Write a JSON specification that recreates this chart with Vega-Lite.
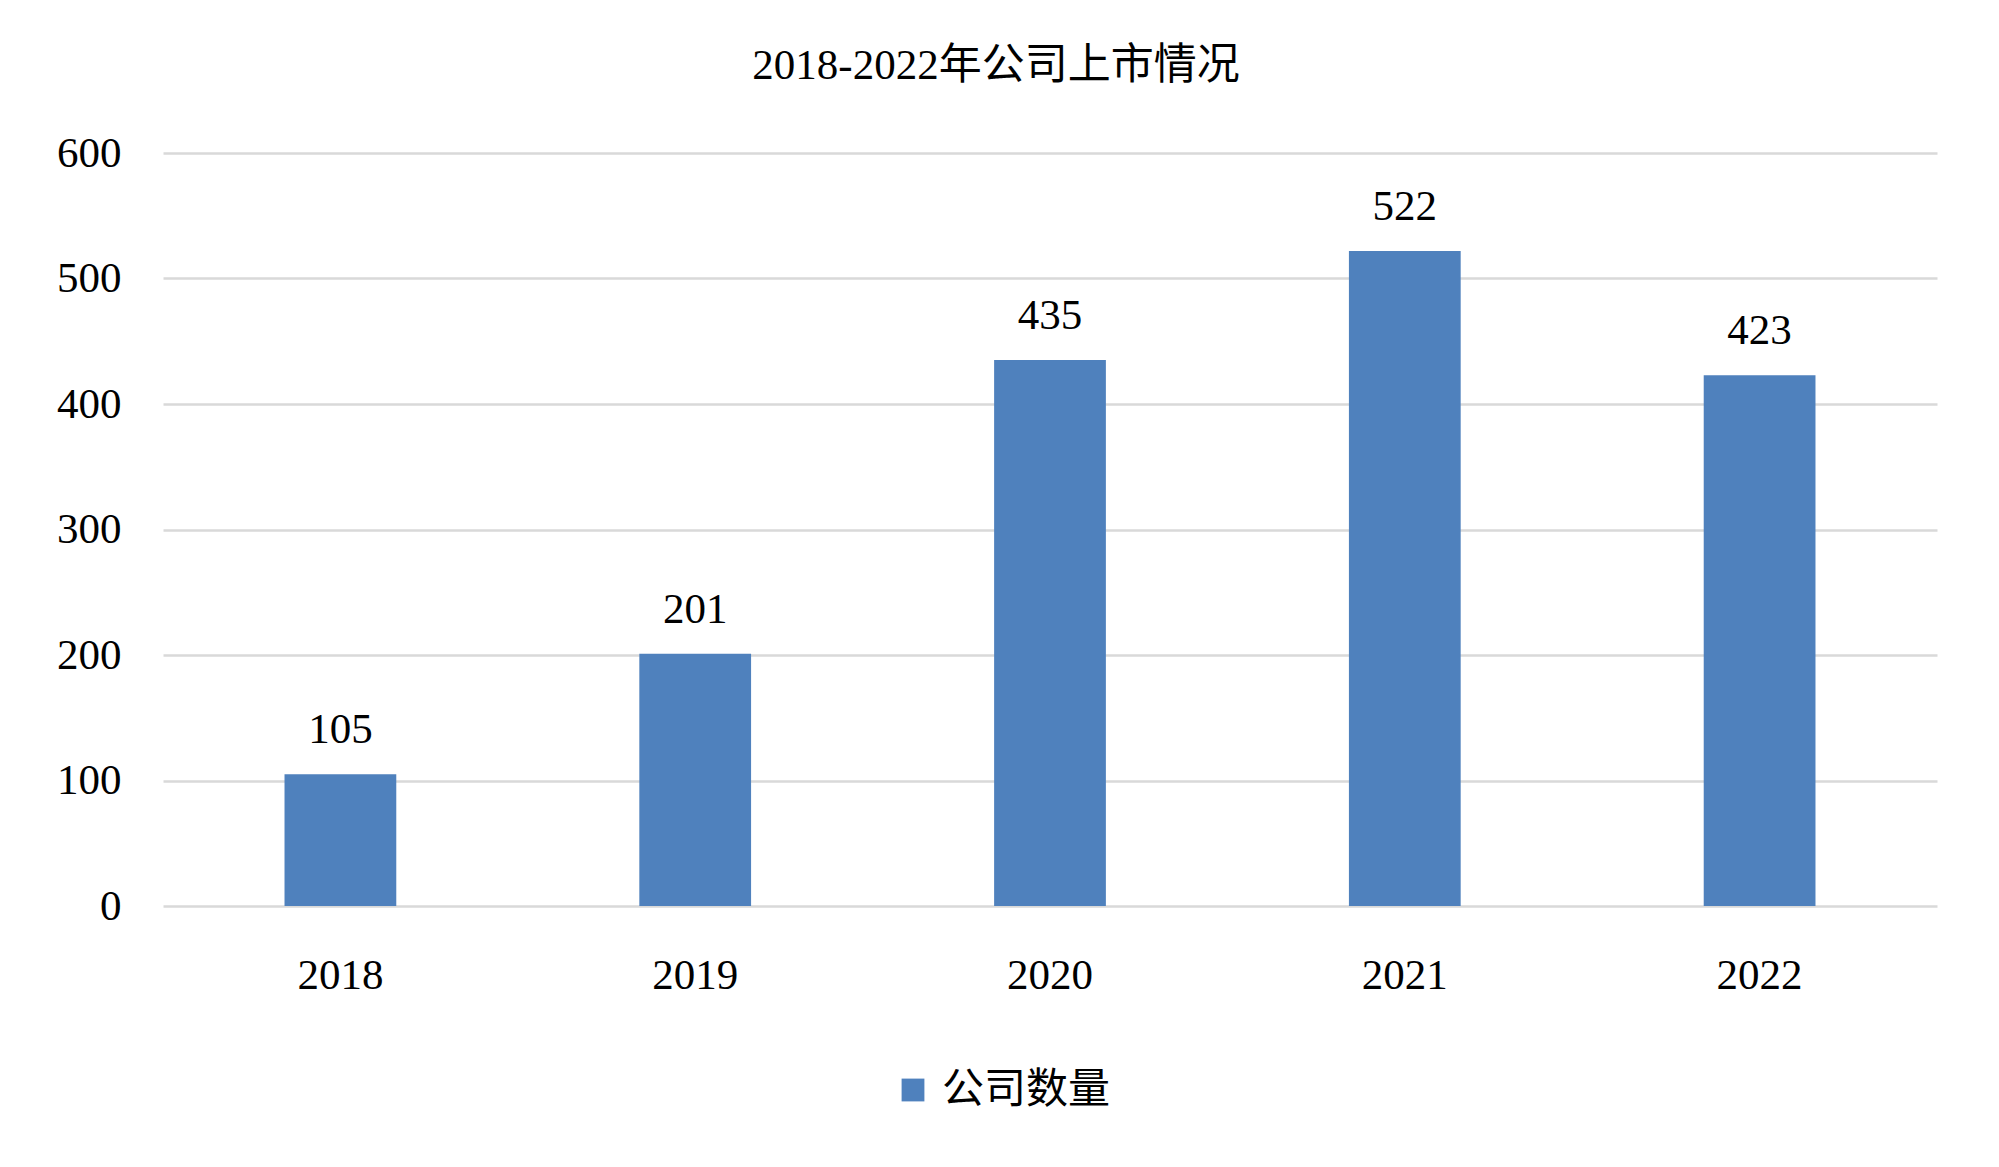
{
  "$schema": "https://vega.github.io/schema/vega-lite/v6.json",
  "autosize": "none",
  "width": 1774,
  "height": 753,
  "padding": {"left": 163, "top": 153, "right": 62, "bottom": 261},
  "background": "white",
  "config": {"view": {"stroke": null}},
  "title": {
    "text": "2018-2022年公司上市情况",
    "fontSize": 43,
    "font": "Liberation Serif, Noto Sans CJK SC",
    "fontWeight": "normal",
    "color": "#000000",
    "anchor": "middle",
    "frame": "group",
    "dx": -54,
    "offset": 44
  },
  "data": {
    "values": [
      {"year": "2018", "count": 105, "series": "公司数量"},
      {"year": "2019", "count": 201, "series": "公司数量"},
      {"year": "2020", "count": 435, "series": "公司数量"},
      {"year": "2021", "count": 522, "series": "公司数量"},
      {"year": "2022", "count": 423, "series": "公司数量"}
    ]
  },
  "encoding": {
    "x": {
      "field": "year",
      "type": "nominal",
      "title": null,
      "sort": null,
      "scale": {"paddingInner": 0.685, "paddingOuter": 0.3425},
      "axis": {
        "labelAngle": 0,
        "labelFont": "Liberation Serif",
        "labelFontSize": 43,
        "labelColor": "#000000",
        "labelPadding": 48,
        "ticks": false,
        "domain": false,
        "grid": false
      }
    },
    "y": {
      "field": "count",
      "type": "quantitative",
      "title": null,
      "scale": {"domain": [0, 600], "nice": false},
      "axis": {
        "values": [0, 100, 200, 300, 400, 500, 600],
        "labelFont": "Liberation Serif",
        "labelFontSize": 43,
        "labelColor": "#000000",
        "labelPadding": 42,
        "ticks": false,
        "domain": false,
        "grid": true,
        "gridColor": "#D9D9D9",
        "gridWidth": 2.5
      }
    }
  },
  "layer": [
    {
      "mark": {"type": "bar", "color": "#4F81BD"},
      "encoding": {
        "color": {
          "field": "series",
          "type": "nominal",
          "scale": {"range": ["#4F81BD"]},
          "legend": {
            "title": null,
            "orient": "none",
            "legendX": 729,
            "legendY": 916,
            "symbolType": "square",
            "symbolSize": 520,
            "symbolStrokeWidth": 0,
            "labelFont": "Liberation Serif, Noto Sans CJK SC",
            "labelFontSize": 42,
            "labelColor": "#000000",
            "labelOffset": 8,
            "labelLimit": 500
          }
        }
      }
    },
    {
      "mark": {
        "type": "text",
        "baseline": "bottom",
        "dy": -22,
        "font": "Liberation Serif",
        "fontSize": 43,
        "color": "#000000"
      },
      "encoding": {
        "text": {"field": "count", "type": "quantitative"}
      }
    }
  ]
}
